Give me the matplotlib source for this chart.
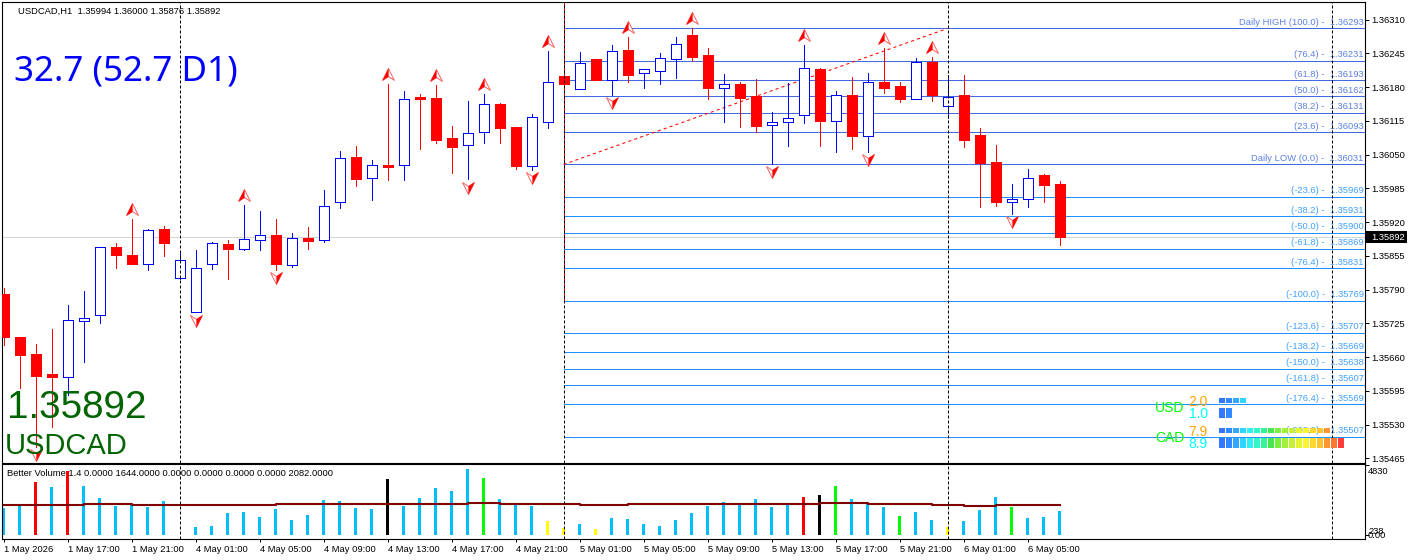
import matplotlib
matplotlib.use("Agg")
import matplotlib.pyplot as plt
from matplotlib.path import Path
from matplotlib.patches import Rectangle

plt.rcParams["font.family"] = ["Liberation Sans", "DejaVu Sans"]

# candles, one hourly bar per entry, first one is 1 May 13:00
opens = [
	1.35782, 1.35699, 1.35666, 1.35628, 1.35621, 1.35730, 1.35741, 1.35872, 1.35857, 1.35840,
	1.35907, 1.35812, 1.35746, 1.35840, 1.35877, 1.35868, 1.35885, 1.35895, 1.35838, 1.35890,
	1.35885, 1.35958, 1.36046, 1.36005, 1.36030, 1.36030, 1.36161, 1.36159, 1.36082, 1.36069,
	1.36093, 1.36148, 1.36103, 1.36028, 1.36112, 1.36202, 1.36176, 1.36234, 1.36194, 1.36252,
	1.36207, 1.36211, 1.36235, 1.36281, 1.36242, 1.36178, 1.36186, 1.36163, 1.36107, 1.36112,
	1.36126, 1.36215, 1.36114, 1.36165, 1.36085, 1.36190, 1.36182, 1.36157, 1.36229, 1.36143,
	1.36165, 1.36088, 1.36036, 1.35959, 1.35964, 1.36011, 1.35994,
]
highs = [
	1.35793, 1.35699, 1.35685, 1.35714, 1.35761, 1.35788, 1.35872, 1.35880, 1.35926, 1.35907,
	1.35913, 1.35863, 1.35867, 1.35882, 1.35886, 1.35953, 1.35942, 1.35926, 1.35899, 1.35911,
	1.35982, 1.36057, 1.36067, 1.36040, 1.36186, 1.36173, 1.36167, 1.36184, 1.36105, 1.36153,
	1.36167, 1.36150, 1.36103, 1.36128, 1.36250, 1.36217, 1.36248, 1.36234, 1.36261, 1.36277,
	1.36214, 1.36246, 1.36277, 1.36293, 1.36256, 1.36205, 1.36190, 1.36196, 1.36132, 1.36188,
	1.36261, 1.36217, 1.36173, 1.36200, 1.36207, 1.36256, 1.36190, 1.36236, 1.36238, 1.36204,
	1.36204, 1.36101, 1.36069, 1.35994, 1.36022, 1.36013, 1.36000,
]
lows = [
	1.35684, 1.35601, 1.35487, 1.35526, 1.35587, 1.35651, 1.35725, 1.35832, 1.35840, 1.35827,
	1.35854, 1.35810, 1.35746, 1.35830, 1.35811, 1.35867, 1.35866, 1.35828, 1.35834, 1.35868,
	1.35881, 1.35948, 1.35990, 1.35963, 1.36001, 1.36001, 1.36061, 1.36073, 1.36015, 1.36003,
	1.36073, 1.36073, 1.36022, 1.36021, 1.36102, 1.36169, 1.36176, 1.36194, 1.36165, 1.36189,
	1.36179, 1.36187, 1.36198, 1.36231, 1.36158, 1.36112, 1.36104, 1.36094, 1.36032, 1.36067,
	1.36110, 1.36067, 1.36056, 1.36060, 1.36056, 1.36169, 1.36152, 1.36157, 1.36154, 1.36121,
	1.36065, 1.35950, 1.35952, 1.35936, 1.35950, 1.35959, 1.35876,
]
closes = [
	1.35698, 1.35665, 1.35624, 1.35621, 1.35731, 1.35736, 1.35872, 1.35857, 1.35840, 1.35904,
	1.35879, 1.35847, 1.35831, 1.35879, 1.35869, 1.35887, 1.35895, 1.35840, 1.35889, 1.35884,
	1.35951, 1.36043, 1.36004, 1.36030, 1.36027, 1.36157, 1.36158, 1.36079, 1.36065, 1.36091,
	1.36147, 1.36102, 1.36029, 1.36122, 1.36189, 1.36187, 1.36226, 1.36194, 1.36249, 1.36204,
	1.36214, 1.36236, 1.36263, 1.36239, 1.36179, 1.36186, 1.36160, 1.36106, 1.36112, 1.36120,
	1.36216, 1.36114, 1.36164, 1.36085, 1.36189, 1.36179, 1.36158, 1.36228, 1.36165, 1.36161,
	1.36079, 1.36033, 1.35959, 1.35964, 1.36005, 1.35992, 1.35892,
]

up_arrow_bars = [8, 15, 24, 27, 30, 34, 39, 43, 50, 55, 58]
down_arrow_bars = [2, 12, 17, 29, 33, 38, 48, 54, 63]

# volume indicator
volumes = [
	1884, 2001, 3657, 3312, 4395, 3381, 2553, 2001, 2070, 1932,
	2346, 30, 552, 621, 1518, 1587, 1242, 1794, 1035, 1380,
	2415, 2346, 1863, 1794, 3864, 2001, 2553, 3243, 3036, 4554,
	3933, 2484, 2070, 2001, 966, 483, 759, 414, 1173, 1104,
	759, 621, 1035, 1518, 2001, 2277, 2070, 2484, 1932, 2070,
	2622, 2760, 3381, 2484, 2139, 1932, 1311, 1587, 1035, 552,
	966, 1725, 2622, 1932, 1173, 1242, 1644,
]
vol_codes = "bbrbrbbbbbbybbbbbbbbbbbbkbbbbbgbbbyybybbbbbbbbbbbbrkgbbbgbbybbbgbbb"
vol_ma = [
	2082, 2082, 2082, 2082, 2082, 2139, 2139, 2139, 2082, 2082,
	2082, 2082, 2082, 2082, 2082, 2082, 2082, 2139, 2139, 2139,
	2139, 2139, 2139, 2139, 2139, 2139, 2139, 2139, 2139, 2208,
	2208, 2139, 2139, 2139, 2139, 2139, 2082, 2082, 2082, 2139,
	2139, 2139, 2139, 2139, 2139, 2139, 2139, 2139, 2139, 2139,
	2139, 2208, 2208, 2208, 2139, 2139, 2139, 2139, 2082, 2082,
	2013, 2013, 2082, 2082, 2082, 2082, 2082,
]
vol_colors = {"b": "#00bfff", "r": "#ff0000", "k": "#000000", "g": "#00ff00", "y": "#ffff00"}

# daily fibo levels
fib_names = [
	"Daily HIGH (100.0)", "(76.4)", "(61.8)", "(50.0)", "(38.2)", "(23.6)", "Daily LOW (0.0)",
	"(-23.6)", "(-38.2)", "(-50.0)", "(-61.8)", "(-76.4)", "(-100.0)", "(-123.6)",
	"(-138.2)", "(-150.0)", "(-161.8)", "(-176.4)", "(-200.0)",
]
fib_prices = [
	1.36293, 1.36231, 1.36193, 1.36162, 1.36131, 1.36093, 1.36031,
	1.35969, 1.35931, 1.35900, 1.35869, 1.35831, 1.35769, 1.35707,
	1.35669, 1.35638, 1.35607, 1.35569, 1.35507,
]

price_ticks = [
	1.36310, 1.36245, 1.36180, 1.36115, 1.36050, 1.35985, 1.35920,
	1.35855, 1.35790, 1.35725, 1.35660, 1.35595, 1.35530, 1.35465,
]
time_tick_bars = [0, 4, 8, 12, 16, 20, 24, 28, 32, 36, 40, 44, 48, 52, 56, 60, 64]
time_labels = [
	"1 May 2026", "1 May 17:00", "1 May 21:00", "4 May 01:00", "4 May 05:00", "4 May 09:00",
	"4 May 13:00", "4 May 17:00", "4 May 21:00", "5 May 01:00", "5 May 05:00", "5 May 09:00",
	"5 May 13:00", "5 May 17:00", "5 May 21:00", "6 May 01:00", "6 May 05:00",
]
day_start_bars = [11, 35, 59, 83]

last_price = 1.35892
meter_names = ["USD", "CAD"]
meter_buy = [2.0, 7.9]
meter_sell = [1.0, 8.9]
meter_colors = [
	"#3278ff", "#3288ff", "#32a8ff", "#2ed5ff", "#2ff0f0", "#32f5c8", "#32f596", "#46e650", "#78f03c",
	"#a0f03c", "#c8f032", "#e6f532", "#fff52d", "#ffd732", "#ffc32d", "#ff9632", "#ff7832", "#ff3c3c",
]

W, H = 1410, 560
PX = 0.00001926  # price per pixel
TXT = 6.75
LW = 0.72


def px_axes(fig, left, top, right, bottom):
	return fig.add_axes([left / W, 1 - bottom / H, (right - left) / W, (bottom - top) / H])


def draw_candles(ax):
	for i in range(len(opens)):
		col = "#0000ff" if closes[i] >= opens[i] else "#ff0000"
		face = "#ffffff" if closes[i] >= opens[i] else "#ff0000"
		ax.vlines(i, lows[i], highs[i], color=col, lw=LW, zorder=3, antialiased=False)
		ax.bar(i, abs(closes[i] - opens[i]), bottom=min(opens[i], closes[i]), width=10 / 16,
			facecolor=face, edgecolor=col, linewidth=LW, zorder=4, antialiased=False)


def draw_arrows(ax):
	up_verts = [(0, 1), (1, -1), (0, -0.35), (-1, -1), (0, 1)]
	left_verts = [(0, 1), (0, -0.35), (-1, -1), (0, 1)]
	codes = [Path.MOVETO, Path.LINETO, Path.LINETO, Path.LINETO, Path.CLOSEPOLY]
	left_codes = [Path.MOVETO, Path.LINETO, Path.LINETO, Path.CLOSEPOLY]
	down_verts = [(-x, -y) for x, y in up_verts]
	down_left = [(-x, -y) for x, y in left_verts]

	ux = up_arrow_bars
	uy = [highs[i] + 10 * PX for i in ux]
	dx = down_arrow_bars
	dy = [lows[i] - 8.5 * PX for i in dx]
	ms = 8.5
	ax.plot(ux, uy, ls="none", marker=Path(up_verts, codes), ms=ms, mfc="#ffffff", mec="#ff6060", mew=0.7, zorder=6)
	ax.plot(ux, uy, ls="none", marker=Path(left_verts, left_codes), ms=ms, mfc="#ff0000", mec="#ff0000", mew=0.2, zorder=7)
	ax.plot(dx, dy, ls="none", marker=Path(down_verts, codes), ms=ms, mfc="#ffffff", mec="#ff6060", mew=0.7, zorder=6)
	ax.plot(dx, dy, ls="none", marker=Path(down_left, left_codes), ms=ms, mfc="#ff0000", mec="#ff0000", mew=0.2, zorder=7)


def draw_fibs(ax):
	for name, price in zip(fib_names, fib_prices):
		col = "#4169e1" if price >= 1.36031 else "#1e90ff"
		ax.hlines(price, 35, 85, color=col, lw=LW, zorder=2, antialiased=False)
		ax.text(85, price + 6 * PX, f"{name} -  {price:.5f}", color=col, fontsize=TXT, ha="right", va="center", alpha=0.85, zorder=5)
	# the trend line and the vertical of the fibo object
	ax.plot([35, 59], [fib_prices[6], fib_prices[0]], color="#ff0000", lw=0.75, ls=(0, (3, 3)), zorder=3)
	ax.vlines(35, fib_prices[12], 1.36344, color="#ff0000", lw=LW, zorder=1, antialiased=False)


def draw_meter(ov):
	for row, name in enumerate(meter_names):
		y0 = 400.5 + row * 30
		ov.text(1155, y0 + 8, name, color="#00ff00", fontsize=10, va="center")
		ov.text(1188.5, y0 + 1, f"{meter_buy[row]:.1f}", color="#ffa500", fontsize=10, va="center")
		ov.text(1188.5, y0 + 13, f"{meter_sell[row]:.1f}", color="#00ffff", fontsize=10, va="center")
		for b in range(int(round(meter_buy[row] * 2))):
			ov.add_patch(Rectangle((1219 + 7 * b, y0 - 2.5), 6, 5, color=meter_colors[b], lw=0))
		for b in range(int(round(meter_sell[row] * 2))):
			ov.add_patch(Rectangle((1219 + 7 * b, y0 + 7.5), 6, 10, color=meter_colors[b], lw=0))


fig = plt.figure(figsize=(W / 100, H / 100), dpi=100, facecolor="white")
ax = px_axes(fig, 2, 2, 1365, 462.5)
ax_vol = px_axes(fig, 2, 464, 1365, 539)
ov = fig.add_axes([0, 0, 1, 1], zorder=10)
ov.set_xlim(0, W)
ov.set_ylim(H, 0)
ov.axis("off")
ov.patch.set_alpha(0)

# bar i has its centre at pixel 3.5 + 16 * i
x_min = -1.5 / 16
x_max = x_min + 1363 / 16
ax.set_xlim(x_min, x_max)
ax.set_ylim(1.35457, 1.36344)
ax_vol.set_xlim(x_min, x_max)
ax_vol.set_ylim(-276, 4899)

ax.axhline(last_price, color="#d3d3d3", lw=LW, zorder=1)
draw_fibs(ax)
draw_candles(ax)
draw_arrows(ax)

for a in (ax, ax_vol):
	for b in day_start_bars:
		a.axvline(b, color="#000000", lw=LW, ls=(0, (3, 2)), zorder=8)
	for s in a.spines.values():
		s.set_linewidth(0.8)

ax.set_xticks([])
ax.yaxis.tick_right()
ax.set_yticks(price_ticks)
ax.set_yticklabels([f"{p:.5f}" for p in price_ticks], fontsize=TXT)
ax.tick_params(axis="y", length=3, width=LW, pad=1.5)

ax_vol.bar(range(len(volumes)), volumes, width=3.4 / 16, color=[vol_colors[c] for c in vol_codes], zorder=2, antialiased=False)
ax_vol.step(range(len(vol_ma)), vol_ma, where="post", color="#7f0000", lw=1.5, zorder=3)
ax_vol.yaxis.tick_right()
ax_vol.set_yticks([0, 4830])
ax_vol.set_yticklabels(["", ""])
ax_vol.tick_params(axis="y", length=3, width=LW)
ax_vol.set_xticks(time_tick_bars)
ax_vol.set_xticklabels(time_labels, fontsize=TXT, ha="left")
ax_vol.tick_params(axis="x", length=2.5, width=LW, pad=2)

# texts on top of everything
ov.text(18, 11, "USDCAD,H1  1.35994 1.36000 1.35876 1.35892", fontsize=TXT, va="center")
ov.text(14, 71, "32.7 (52.7 D1)", color="#0000ff", fontsize=25.2, family="Noto Sans", va="center")
ov.text(7, 408, "1.35892", color="#006400", fontsize=27.8, va="center")
ov.text(5, 446, "USDCAD", color="#006400", fontsize=21, va="center")
ov.text(7, 473, "Better Volume 1.4 0.0000 1644.0000 0.0000 0.0000 0.0000 0.0000 2082.0000", fontsize=TXT, va="center")
ov.text(1368, 471, "4830", fontsize=TXT, va="center")
ov.text(1369, 532, "238", fontsize=TXT, va="center")
ov.text(1368, 535.5, "0.00", fontsize=TXT, va="center")
ov.add_patch(Rectangle((1366, 231), 41, 12, color="#000000", lw=0))
ov.text(1371, 237.3, f"{last_price:.5f}", color="#ffffff", fontsize=TXT, va="center")
draw_meter(ov)

plt.savefig("out.png", dpi=100)
plt.close(fig)
